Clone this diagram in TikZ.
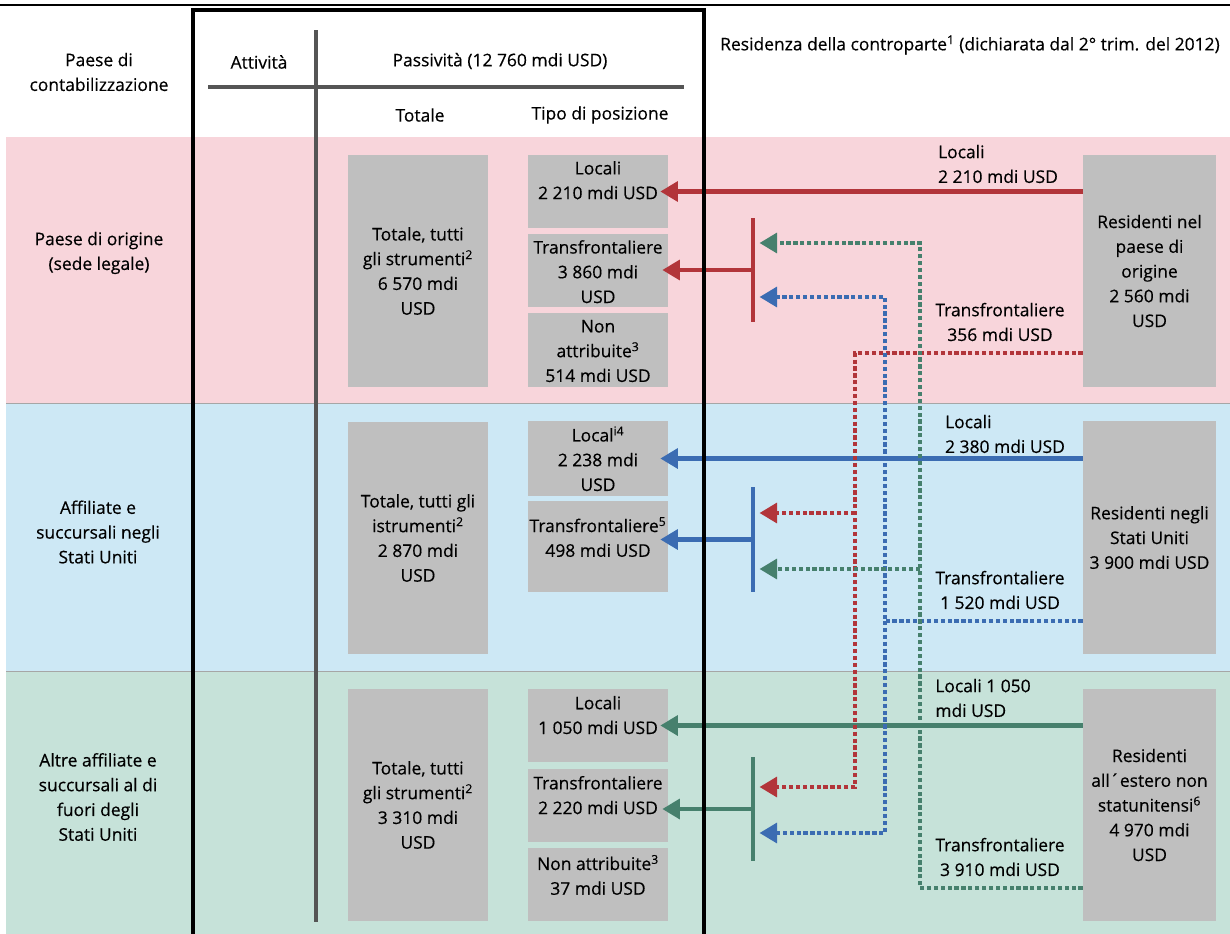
\documentclass[tikz,border=0pt]{standalone}
\usepackage{fontspec}
\setmainfont{Open Sans}[FakeBold=0.4]
\usetikzlibrary{calc}
\usetikzlibrary{positioning}
\usetikzlibrary{arrows.meta}

\definecolor{rosa}{HTML}{F8D5DB}
\definecolor{celeste}{HTML}{CDE8F5}
\definecolor{verdino}{HTML}{C6E2D9}
\definecolor{grigio}{HTML}{BFBFBF}
\definecolor{scuro}{HTML}{555555}
\definecolor{rosso}{HTML}{B2353A}
\definecolor{blu}{HTML}{3B6CB2}
\definecolor{verde}{HTML}{46806D}

\begin{document}
\begin{tikzpicture}[x=0.025cm, y=-0.025cm,
		every node/.style={font=\fontsize{12.4}{17.6}\selectfont},
		testo/.style={align=center, inner sep=1pt},
		grigia/.style={fill=grigio, inner sep=0pt, minimum width=3.5cm},
		residenti/.style={fill=grigio, inner sep=0pt, minimum width=3.325cm, minimum height=5.8cm, align=center},
		barra/.style={fill=#1, inner sep=0pt, minimum width=0.11cm, minimum height=2.6cm},
		freccia/.style={draw=#1, line width=3pt, -{Triangle[length=12.5pt, width=14pt]}},
		punti/.style={draw=#1, line width=3pt, dash pattern=on 3pt off 1.9pt, -{Triangle[length=12.5pt, width=14pt]}}]
			\useasboundingbox (0,0) rectangle (1230,934);
			
			% fasce
			\fill[rosa] (6,137) rectangle (1230,403);
			\fill[celeste] (6,403) rectangle (1230,671);
			\fill[verdino] (6,671) rectangle (1230,934);
			\draw[gray!70, line width=0.6pt] (6,403) -- (1230,403) (6,671) -- (1230,671);
			\draw[line width=2pt] (0,5) -- (1230,5);
			\draw[scuro, line width=2.4pt] (316,30) -- (316,922);
			\draw[scuro, line width=2.4pt] (208,87) -- (684,87);
			
			% intestazioni
			\node[testo] (paese) at (99,72) {Paese di\\contabilizzazione};
			\node[testo] (att) at (259,62) {Attività};
			\node[testo] (pass) at (500,61) {Passività (12 760 mdi USD)};
			\node[testo] (tot) at (420,115) {Totale};
			\node[testo] (tipo) at (600,115) {Tipo di posizione};
			\node[testo] (resid) at (970,45) {Residenza della controparte\textsuperscript{1} (dichiarata dal 2° trim. del 2012)};
			
			\node[testo] (orig) at (99,253) {Paese di origine\\(sede legale)};
			\node[testo] (usa) at (98,532) {Affiliate e\\succursali negli\\Stati Uniti};
			\node[testo] (altre) at (98,797) {Altre affiliate e\\succursali al di\\fuori degli\\Stati Uniti};
			
			% totali
			\node[grigia, minimum height=5.8cm, align=center] (tot1) at (418,271) {Totale, tutti\\gli strumenti\textsuperscript{2}\\6 570 mdi\\USD};
			\node[grigia, minimum height=5.8cm, align=center] (tot2) at (418,538) {Totale, tutti gli\\istrumenti\textsuperscript{2}\\2 870 mdi\\USD};
			\node[grigia, minimum height=5.8cm, align=center] (tot3) at (418,805) {Totale, tutti\\gli strumenti\textsuperscript{2}\\3 310 mdi\\USD};
			
			% tipo di posizione
			\node[grigia, minimum height=1.825cm] (lo1) at (598,191.5) {};
			\node[grigia, minimum height=1.825cm] (tf1) at (598,270.5) {};
			\node[grigia, minimum height=1.85cm] (na1) at (598,350) {};
			\node[grigia, minimum height=1.875cm] (lo2) at (598,458.5) {};
			\node[grigia, minimum height=2.275cm] (tf2) at (598,546.5) {};
			\node[grigia, minimum height=1.825cm] (lo3) at (598,725.5) {};
			\node[grigia, minimum height=1.825cm] (tf3) at (598,805.5) {};
			\node[grigia, minimum height=1.825cm] (na3) at (598,884.5) {};
			
			\node[testo, below=0.12cm of lo1.north] (lo1t) {Locali\\2 210 mdi USD};
			\node[testo, below=0.12cm of tf1.north] (tf1t) {Transfrontaliere\\3 860 mdi\\USD};
			\node[testo, below=0.14cm of na1.north] (na1t) {Non\\attribuite\textsuperscript{3}\\514 mdi USD};
			\node[testo, below=0.1cm of lo2.north] (lo2t) {Local\textsuperscript{i4}\\2 238 mdi\\USD};
			\node[testo, below=0.37cm of tf2.north] (tf2t) {Transfrontaliere\textsuperscript{5}\\498 mdi USD};
			\node[testo, below=0.14cm of lo3.north] (lo3t) {Locali\\1 050 mdi USD};
			\node[testo, below=0.14cm of tf3.north] (tf3t) {Transfrontaliere\\2 220 mdi USD};
			\node[testo, below=0.14cm of na3.north] (na3t) {Non attribuite\textsuperscript{3}\\37 mdi USD};
			
			% residenza della controparte
			\node[residenti] (res1) at (1149.5,271) {Residenti nel\\paese di\\origine\\2 560 mdi\\USD};
			\node[residenti] (res2) at (1149.5,537.5) {Residenti negli\\Stati Uniti\\3 900 mdi USD};
			\node[residenti] (res3) at (1149.5,805) {Residenti\\all´estero non\\statunitensi\textsuperscript{6}\\4 970 mdi\\USD};
			
			\node[testo, align=left] (lbLo1) at (998,164) {Locali\\2 210 mdi USD};
			\node[testo] (lbTf1) at (1000,322) {Transfrontaliere\\356 mdi USD};
			\node[testo, align=left] (lbLo2) at (1005,434) {Locali\\2 380 mdi USD};
			\node[testo] (lbTf2) at (1000,590) {Transfrontaliere\\1 520 mdi USD};
			\node[testo, align=left] (lbLo3) at (983,698) {Locali 1 050\\mdi USD};
			\node[testo] (lbTf3) at (1000,857) {Transfrontaliere\\3 910 mdi USD};
			
			% barre
			\node[barra=rosso] (barR) at (753,270) {};
			\node[barra=blu] (barB) at (753,539.5) {};
			\node[barra=verde] (barG) at (753,809) {};
			
			% locali
			\draw[freccia=rosso] (res1.west |- lo1) -- ($(lo1.east)+(-8,0)$);
			\draw[freccia=blu] (res2.west |- lo2) -- ($(lo2.east)+(-8,0)$);
			\draw[freccia=verde] (res3.west |- lo3) -- ($(lo3.east)+(-8,0)$);
			
			% transfrontaliere
			\draw[freccia=rosso] (barR) -- ($(tf1.east |- barR)+(-6,0)$);
			\draw[freccia=blu] (barB) -- ($(tf2.east |- barB)+(-8,0)$);
			\draw[freccia=verde] (barG) -- ($(tf3.east |- barG)+(-6,0)$);
			
			\coordinate (rA) at (855,353);
			\coordinate (rM) at (855,513);
			\coordinate (rB) at (855,787);
			\coordinate (bA) at (885,297);
			\coordinate (bC) at (885,621);
			\coordinate (bB) at (885,833);
			\coordinate (gA) at (920,243);
			\coordinate (gM) at (920,569);
			\coordinate (gB) at (920,888);
			
			\draw[punti=rosso] (res1.west |- rA) -- (rA) -- (rB) -- ($(barG.east |- rB)+(4,0)$);
			\draw[punti=rosso] (rM) -- ($(barB.east |- rM)+(4,0)$);
			\draw[punti=blu] (res2.west |- bC) -- (bC) -- (bA) -- ($(barR.east |- bA)+(4,0)$);
			\draw[punti=blu] (bC) -- (bB) -- ($(barG.east |- bB)+(4,0)$);
			\draw[punti=verde] (res3.west |- gB) -- (gB) -- (gA) -- ($(barR.east |- gA)+(4,0)$);
			\draw[punti=verde] (gM) -- ($(barB.east |- gM)+(4,0)$);
			
			% cornice
			\draw[line width=2.8pt] (193,940) -- (193,10) -- (704,10) -- (704,940);
		\end{tikzpicture}
\end{document}
